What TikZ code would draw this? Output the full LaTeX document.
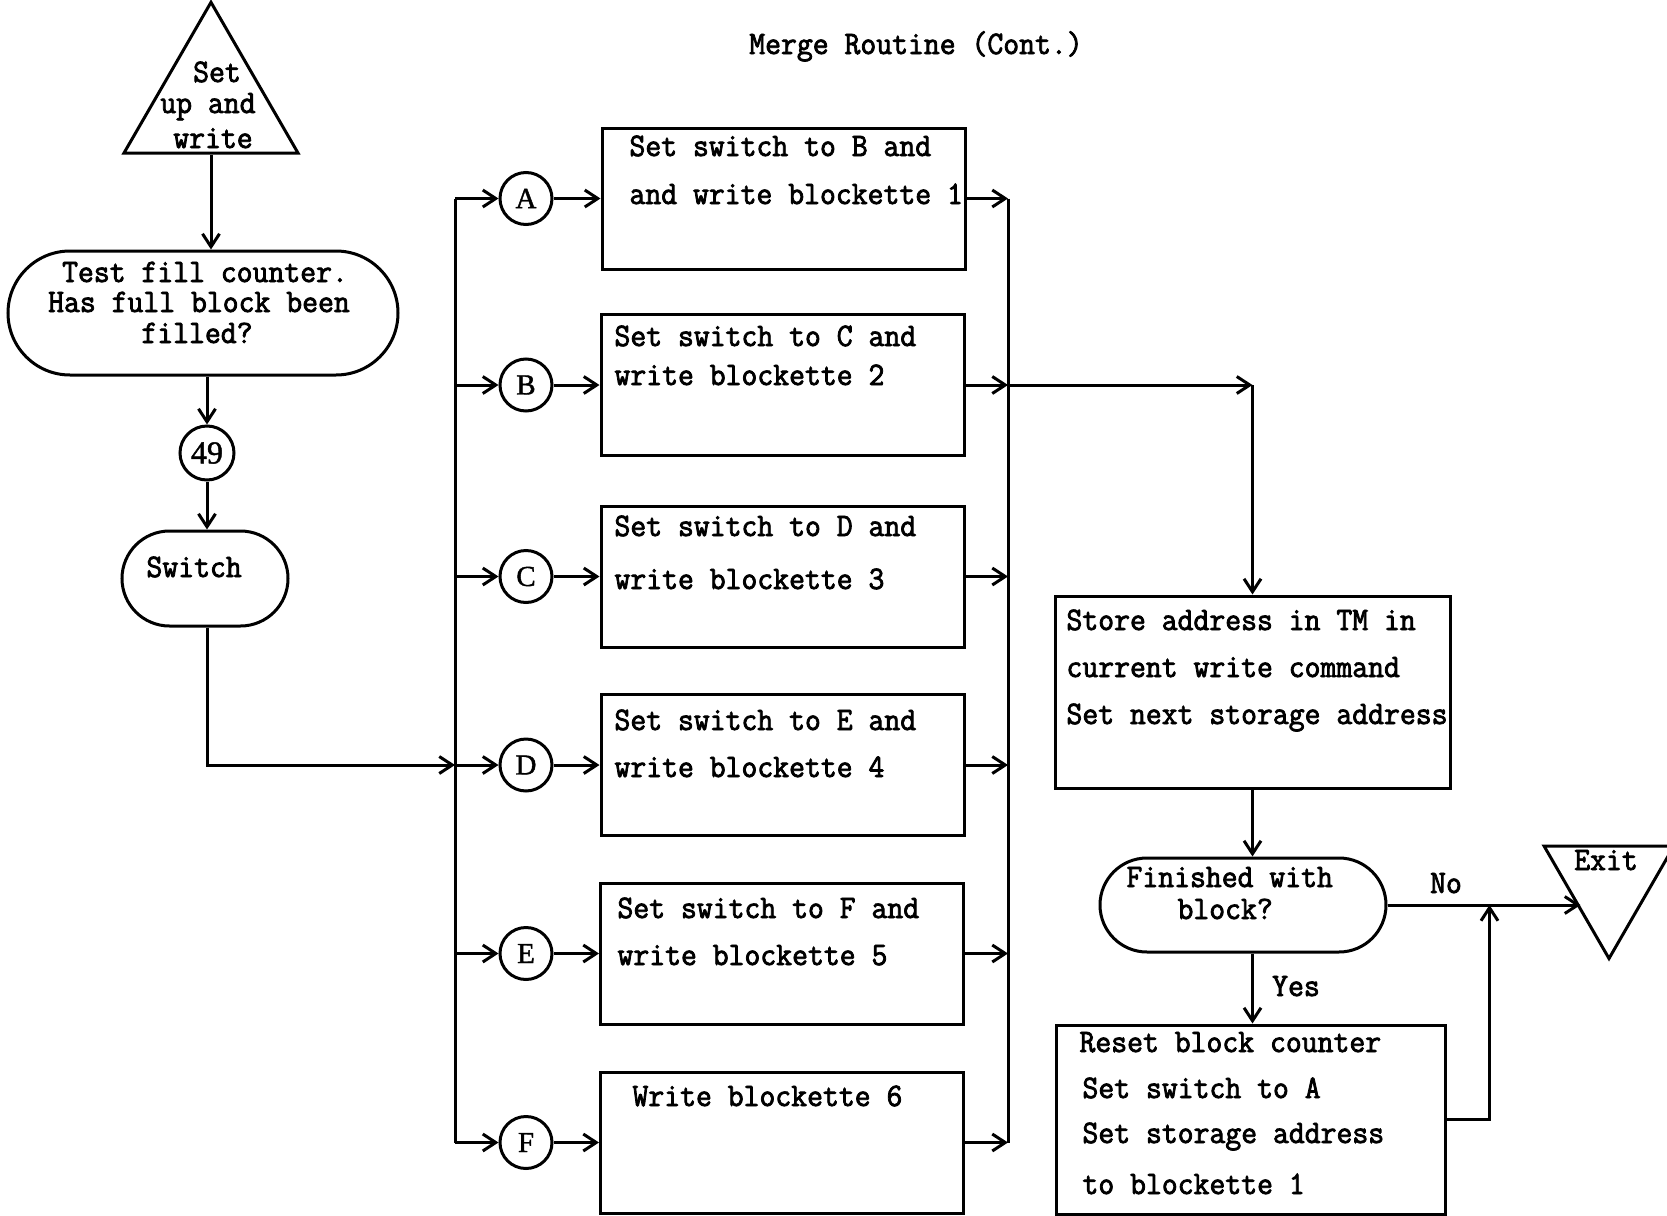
\documentclass[tikz,border=0pt]{standalone}
\usepackage{fontspec}
\newfontfamily\tw[FakeStretch=0.94,FakeBold=2.4]{Latin Modern Mono}
\newfontfamily\sr[FakeBold=1.4]{Liberation Serif}
\usetikzlibrary{arrows.meta,shapes.geometric,calc}
\begin{document}
\begin{tikzpicture}[x=0.5pt,y={(0pt,-0.5pt)}, line width=1.5pt,
  arr/.style={-{Straight Barb[length=6.5pt,width=8.5pt]}},
  txt/.style={font=\tw\fontsize{16.4}{20}\selectfont, inner sep=0pt},
  tri/.style={draw, regular polygon, regular polygon sides=3, inner sep=0pt},
  term/.style={draw, rectangle, inner sep=0pt},
  box/.style={draw, rectangle, inner sep=0pt, minimum width=181.5pt, minimum height=70.5pt},
  circ/.style={draw, circle, inner sep=0pt, minimum size=26pt, font=\sr\fontsize{14.5}{16}\selectfont}]
\useasboundingbox (0,0) rectangle (1667,1216);

% title
\node[txt,anchor=base] (title) at (916,54) {Merge Routine (Cont.)};

% start triangle
\node[tri, minimum size=100.5pt] (start) at (211,102.8) {};
\node[txt,anchor=base] (st1) at (217,82) {Set};
\node[txt,anchor=base] (st2) at (208,113) {up and};
\node[txt,anchor=base] (st3) at (213,148) {write};

% test terminal
\node[term, minimum width=195pt, minimum height=62pt, rounded corners=31pt] (test) at (203,313) {};
\node[txt,anchor=base] (te1) at (205,282) {Test fill counter.};
\node[txt,anchor=base] (te2) at (199,312) {Has full block been};
\node[txt,anchor=base] (te3) at (197,343) {filled?};

% connector 49
\node[circ, minimum size=27pt, font=\sr\fontsize{16}{18}\selectfont] (c49) at (207,453) {49};

% switch terminal
\node[term, minimum width=83pt, minimum height=47.5pt, rounded corners=23.75pt] (sw) at (205,578.5) {};
\node[txt,anchor=base west] (swt) at (145,577) {Switch};

% buses
\coordinate (lbus) at (455,0);
\coordinate (rbus) at (1008,0);

% circles
\node[circ] (cA) at (526,198.5) {A};
\node[circ] (cB) at (526,385) {B};
\node[circ] (cC) at (526,576.5) {C};
\node[circ] (cD) at (526,765) {D};
\node[circ] (cE) at (526,953.5) {E};
\node[circ] (cF) at (526,1142.5) {F};

% boxes
\node[box] (bA) at (783.5,198.5) {};
\node[box] (bB) at (782.5,385) {};
\node[box] (bC) at (782.5,576.5) {};
\node[box] (bD) at (782.5,765) {};
\node[box] (bE) at (782,953.5) {};
\node[box] (bF) at (782,1142.5) {};

\node[txt,anchor=base west] (tA1) at (628,156) {Set switch to B and};
\node[txt,anchor=base west] (tA2) at (628,204) {and write blockette 1};
\node[txt,anchor=base west] (tB1) at (613,346) {Set switch to C and};
\node[txt,anchor=base west] (tB2) at (613,385) {write blockette 2};
\node[txt,anchor=base west] (tC1) at (613,536) {Set switch to D and};
\node[txt,anchor=base west] (tC2) at (613,589) {write blockette 3};
\node[txt,anchor=base west] (tD1) at (613,730) {Set switch to E and};
\node[txt,anchor=base west] (tD2) at (613,777) {write blockette 4};
\node[txt,anchor=base west] (tE1) at (616,918) {Set switch to F and};
\node[txt,anchor=base west] (tE2) at (616,965) {write blockette 5};
\node[txt,anchor=base west] (tF1) at (631,1106) {Write blockette 6};

% store box
\node[term, minimum width=197.5pt, minimum height=96pt] (store) at (1252.5,692) {};
\node[txt,anchor=base west] (s1) at (1065,630) {Store address in TM in};
\node[txt,anchor=base west] (s2) at (1065,677) {current write command};
\node[txt,anchor=base west] (s3) at (1065,724) {Set next storage address};

% finished terminal
\node[term, minimum width=143pt, minimum height=47pt, rounded corners=23.5pt] (fin) at (1243,905) {};
\node[txt,anchor=base west] (f1) at (1125,887) {Finished with};
\node[txt,anchor=base west] (f2) at (1176,919) {block?};

% reset box
\node[term, minimum width=194.5pt, minimum height=94.5pt] (reset) at (1250.5,1119.5) {};
\node[txt,anchor=base west] (r1) at (1078,1052) {Reset block counter};
\node[txt,anchor=base west] (r2) at (1081,1098) {Set switch to A};
\node[txt,anchor=base west] (r3) at (1081,1143) {Set storage address};
\node[txt,anchor=base west] (r4) at (1081,1194) {to blockette 1};

% exit triangle
\node[tri, minimum size=75pt, shape border rotate=180] (exit) at (1609,883.5) {};
\node[txt,anchor=base] (ex) at (1606,870) {Exit};

% labels
\node[txt,anchor=base] (no) at (1446,893) {No};
\node[txt,anchor=base] (yes) at (1296,996) {Yes};

% connectors left column
\draw[arr] (start.south) -- (start.south |- test.north);
\draw[arr] (test.south -| c49) -- (c49.north);
\draw[arr] (c49.south) -- (c49.south |- sw.north);
\draw[arr] (sw.south -| c49) |- (lbus |- cD);

% buses
\draw (lbus |- cA) -- (lbus |- cF);
\draw (rbus |- bA.east) -- (rbus |- bF.east);
\foreach \c in {A,B,C,D,E,F}{
  \draw[arr] (lbus |- c\c) -- (c\c.west);
  \draw[arr] (c\c.east) -- (b\c.west);
  \draw[arr] (b\c.east) -- (rbus |- b\c.east);
}

% to store
\coordinate (corner) at (store.north |- bB.east);
\draw[arr] (rbus |- bB.east) -- (corner);
\draw[arr] (corner) -- (store.north);
\draw[arr] (store.south) -- (store.south |- fin.north);
\draw[arr] (fin.south -| store.south) -- (reset.north -| store.south);

% to exit
\path (fin.east) ++(102,0) coordinate (jn);
\path (fin.east) ++(193,0) coordinate (exitin);
\draw[arr] (fin.east) -- (exitin);
\draw[arr] (reset.east) -| (jn);
\end{tikzpicture}
\end{document}
